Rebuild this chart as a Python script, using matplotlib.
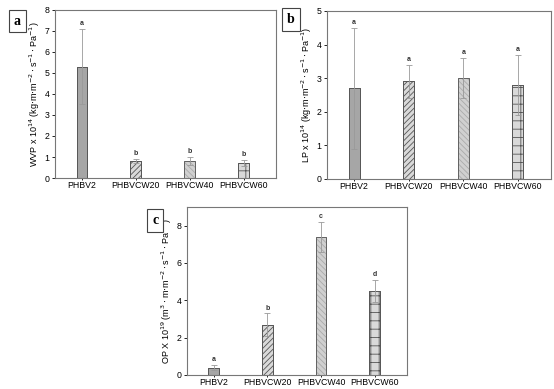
import matplotlib.pyplot as plt
import numpy as np

samples = ['PHBV2', 'PHBVCW20', 'PHBVCW40', 'PHBVCW60']

wvp = [5.3, 0.8, 0.8, 0.7]
wvp_err = [1.8, 0.1, 0.2, 0.15]
wvp_letters = ['a', 'b', 'b', 'b']

lp = [2.7, 2.9, 3.0, 2.8]
lp_err = [1.8, 0.5, 0.6, 0.9]
lp_letters = ['a', 'a', 'a', 'a']

op = [0.4, 2.7, 7.4, 4.5]
op_err = [0.15, 0.6, 0.8, 0.6]
op_letters = ['a', 'b', 'c', 'd']

plt.rcParams['font.family'] = 'Liberation Sans'
plt.rcParams['hatch.linewidth'] = 0.6

fig = plt.figure(figsize=(5.54, 3.89), dpi=100)

faces = ['#a6a6a6', '#d9d9d9', '#d0d0d0', '#d9d9d9']
hatches = [None, '//////', '\\\\\\\\\\\\', '++']
hatch_cols = ['#555555', '#555555', '#aaaaaa', '#555555']


def panel(rect, vals, errs, letters, ylim, yticks, ylabel, tag, tagpos):
    ax = fig.add_axes(rect)
    x = np.arange(1, 5)
    for i in range(4):
        ax.bar(x[i], vals[i], 0.2, color=faces[i], hatch=hatches[i],
               edgecolor=hatch_cols[i], linewidth=0.6)
        ax.bar(x[i], vals[i], 0.2, color='none', edgecolor='#555555', linewidth=0.6)
    ax.errorbar(x, vals, yerr=errs, fmt='none', ecolor='#999999', elinewidth=0.6,
                capsize=2, capthick=0.6)
    for i in range(4):
        ax.text(x[i], vals[i] + errs[i] + ylim * 0.01, letters[i], ha='center',
                va='bottom', fontsize=5, fontweight='bold', color='#333333')
    ax.set_xlim(0.5, 4.6)
    ax.set_ylim(0, ylim)
    ax.set_xticks(x)
    ax.set_xticklabels(samples, fontsize=6.3)
    ax.set_yticks(yticks)
    ax.tick_params(axis='y', labelsize=6.3, length=2, width=0.6, pad=2)
    ax.tick_params(axis='x', length=1.5, width=0.6, pad=1)
    ax.set_ylabel(ylabel, fontsize=6.5, labelpad=2)
    for s in ax.spines.values():
        s.set_color('#777777')
        s.set_linewidth(0.8)
    fig.text(tagpos[0], tagpos[1], tag, fontsize=10, fontweight='bold',
             family='Liberation Serif', ha='center', va='center',
             bbox=dict(boxstyle='square,pad=0.35', fc='white', ec='#444444', lw=0.8))
    return ax


panel([0.0993, 0.5424, 0.399, 0.432], wvp, wvp_err, wvp_letters, 8, range(0, 9),
      r'WVP x 10$^{14}$ (kg$\cdot$m$\cdot$m$^{-2}\cdot$s$^{-1}\cdot$Pa$^{-1}$)', 'a', (0.031, 0.946))
panel([0.590, 0.540, 0.404, 0.432], lp, lp_err, lp_letters, 5, range(0, 6),
      r'LP x 10$^{14}$ (kg$\cdot$m$\cdot$m$^{-2}\cdot$s$^{-1}\cdot$Pa$^{-1}$)', 'b', (0.525, 0.949))
panel([0.3375, 0.036, 0.397, 0.432], op, op_err, op_letters, 9, range(0, 9, 2),
      r'OP X 10$^{19}$ (m$^{3}\cdot$m$\cdot$m$^{-2}\cdot$s$^{-1}\cdot$Pa$^{-1}$)', 'c', (0.280, 0.434))

fig.savefig('out.png', dpi=100)
